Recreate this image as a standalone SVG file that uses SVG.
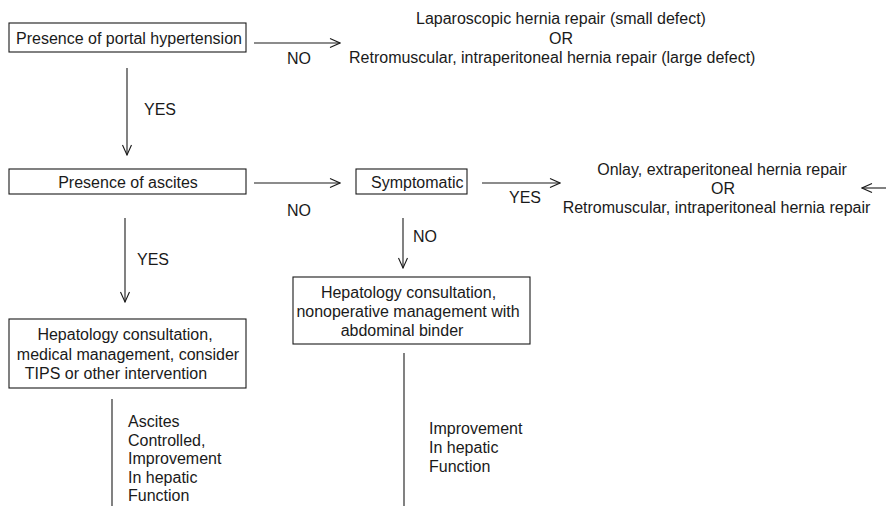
<svg xmlns="http://www.w3.org/2000/svg" width="886" height="506" viewBox="0 0 886 506">
<defs>
<style>
text{font-family:"Liberation Sans",Arial,sans-serif;font-size:16px;fill:#1a1a1a}
.m{text-anchor:middle}
.box{fill:#fff;stroke:#1a1a1a;stroke-width:1.1}
.ln{fill:none;stroke:#1a1a1a;stroke-width:1.1}
.ar{marker-end:url(#ah)}
</style>
<marker id="ah" markerUnits="userSpaceOnUse" markerWidth="12" markerHeight="12" viewBox="0 0 12 12" refX="11" refY="6" orient="auto">
<path d="M1,1.5 L11,6 L1,10.5" fill="none" stroke="#1a1a1a" stroke-width="1.1"/>
</marker>
</defs>
<rect width="886" height="506" fill="#fff"/>

<g id="connectors">
<line class="ln ar" x1="254" y1="43" x2="340" y2="43"/>
<line class="ln ar" x1="127" y1="68" x2="127" y2="155"/>
<line class="ln ar" x1="254" y1="183" x2="340" y2="183"/>
<line class="ln ar" x1="482" y1="183" x2="560" y2="183"/>
<line class="ln ar" x1="886" y1="188" x2="862" y2="188"/>
<line class="ln ar" x1="125" y1="218" x2="125" y2="302"/>
<line class="ln ar" x1="403" y1="218" x2="403" y2="268"/>
<line class="ln" x1="112" y1="399" x2="112" y2="506"/>
<line class="ln" x1="404" y1="353" x2="404" y2="506"/>
<text x="287" y="64">NO</text>
<text x="144" y="115">YES</text>
<text x="287" y="216">NO</text>
<text x="509" y="203">YES</text>
<text x="413" y="242">NO</text>
<text x="137" y="265">YES</text>
<text x="128" y="427">Ascites</text>
<text x="128" y="445.5">Controlled,</text>
<text x="128" y="464">Improvement</text>
<text x="128" y="482.5">In hepatic</text>
<text x="128" y="501">Function</text>
<text x="429" y="434">Improvement</text>
<text x="429" y="453">In hepatic</text>
<text x="429" y="472">Function</text>
</g>

<g id="portal">
<rect class="box" x="9" y="23" width="237" height="29"/>
<text class="m" x="129" y="43.5">Presence of portal hypertension</text>
</g>

<g id="outcome-top">
<text x="416" y="24">Laparoscopic hernia repair (small defect)</text>
<text class="m" x="561" y="44">OR</text>
<text x="349" y="63">Retromuscular, intraperitoneal hernia repair (large defect)</text>
</g>

<g id="ascites">
<rect class="box" x="9" y="169" width="237" height="25"/>
<text class="m" x="128" y="188">Presence of ascites</text>
</g>

<g id="symptomatic">
<rect class="box" x="356" y="169" width="111" height="25"/>
<text x="371" y="188">Symptomatic</text>
</g>

<g id="outcome-right">
<text class="m" x="722" y="175">Onlay, extraperitoneal hernia repair</text>
<text class="m" x="723" y="194">OR</text>
<text class="m" x="716.5" y="213">Retromuscular, intraperitoneal hernia repair</text>
</g>

<g id="hepatology-medical">
<rect class="box" x="9" y="319" width="237" height="69"/>
<text class="m" x="125" y="340">Hepatology consultation,</text>
<text class="m" x="128" y="359.5">medical management, consider</text>
<text class="m" x="116" y="379">TIPS or other intervention</text>
</g>

<g id="hepatology-binder">
<rect class="box" x="293" y="277" width="237" height="67"/>
<text class="m" x="408.5" y="298">Hepatology consultation,</text>
<text class="m" x="408" y="317">nonoperative management with</text>
<text class="m" x="402" y="336">abdominal binder</text>
</g>
</svg>
